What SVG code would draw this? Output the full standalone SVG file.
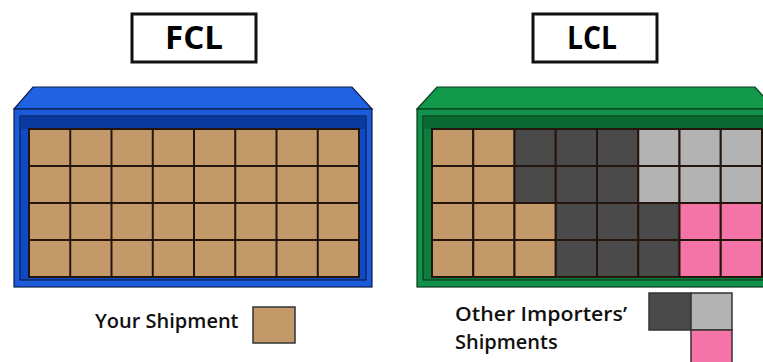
<svg xmlns="http://www.w3.org/2000/svg" width="763" height="362" viewBox="0 0 763 362">
<style>
.title{font-family:"Open Sans","Liberation Sans",sans-serif;font-weight:700;font-size:32px;fill:#000}
.tbox{fill:#fff;stroke:#111;stroke-width:3}
.lbl{font-family:"Open Sans","Liberation Sans",sans-serif;font-weight:600;font-size:20px;fill:#111}
.edge{stroke:#0d1f4a;stroke-width:1.2}
.gedge{stroke:#0a3a1c;stroke-width:1.2}
.box{stroke:#24160d;stroke-width:2}
.tan{fill:#c4996a}
.dk{fill:#4a4a4a}
.lt{fill:#b3b3b3}
.pk{fill:#f574a7}
.leg{stroke:#333;stroke-width:1.5}
</style>
<defs>
<pattern id="grid" x="29" y="129" width="41.25" height="37" patternUnits="userSpaceOnUse">
<rect width="41.25" height="37" fill="none" stroke="#24160d" stroke-width="2"/>
</pattern>
</defs>

<g id="fcl-title">
<rect class="tbox" x="132" y="14" width="124" height="48"/>
<text class="title" x="194" y="49" text-anchor="middle" textLength="58" lengthAdjust="spacingAndGlyphs">FCL</text>
</g>

<g id="lcl-title">
<rect class="tbox" x="533" y="14" width="124" height="48"/>
<text class="title" x="592" y="49" text-anchor="middle" textLength="50" lengthAdjust="spacingAndGlyphs">LCL</text>
</g>

<g id="fcl-container">
<polygon class="edge" points="33,87 352,87 372,109 14,109" fill="#1f62e2"/>
<rect class="edge" x="14" y="109" width="358" height="178" fill="#1a5bdc"/>
<rect class="edge" x="20" y="116" width="346" height="164" fill="#1049c4"/>
<rect x="20.6" y="116.6" width="344.8" height="12.4" fill="#0b3a9e"/>
<rect class="tan" x="29" y="129" width="330" height="148"/>
<rect x="29" y="129" width="330" height="148" fill="url(#grid)" stroke="#24160d" stroke-width="2"/>
</g>

<g id="lcl-container">
<polygon class="gedge" points="437,87 755,87 775,109 417,109" fill="#12994a"/>
<rect class="gedge" x="417" y="109" width="360" height="178" fill="#11924a"/>
<rect class="gedge" x="423" y="116" width="350" height="164" fill="#0c7d3b"/>
<rect x="423.6" y="116.6" width="348" height="12.4" fill="#0a6a31"/>
<g class="box">
<rect class="tan" x="432" y="129" width="41.25" height="37"/>
<rect class="tan" x="473.25" y="129" width="41.25" height="37"/>
<rect class="dk" x="514.5" y="129" width="41.25" height="37"/>
<rect class="dk" x="555.75" y="129" width="41.25" height="37"/>
<rect class="dk" x="597" y="129" width="41.25" height="37"/>
<rect class="lt" x="638.25" y="129" width="41.25" height="37"/>
<rect class="lt" x="679.5" y="129" width="41.25" height="37"/>
<rect class="lt" x="720.75" y="129" width="41.25" height="37"/>

<rect class="tan" x="432" y="166" width="41.25" height="37"/>
<rect class="tan" x="473.25" y="166" width="41.25" height="37"/>
<rect class="dk" x="514.5" y="166" width="41.25" height="37"/>
<rect class="dk" x="555.75" y="166" width="41.25" height="37"/>
<rect class="dk" x="597" y="166" width="41.25" height="37"/>
<rect class="lt" x="638.25" y="166" width="41.25" height="37"/>
<rect class="lt" x="679.5" y="166" width="41.25" height="37"/>
<rect class="lt" x="720.75" y="166" width="41.25" height="37"/>

<rect class="tan" x="432" y="203" width="41.25" height="37"/>
<rect class="tan" x="473.25" y="203" width="41.25" height="37"/>
<rect class="tan" x="514.5" y="203" width="41.25" height="37"/>
<rect class="dk" x="555.75" y="203" width="41.25" height="37"/>
<rect class="dk" x="597" y="203" width="41.25" height="37"/>
<rect class="dk" x="638.25" y="203" width="41.25" height="37"/>
<rect class="pk" x="679.5" y="203" width="41.25" height="37"/>
<rect class="pk" x="720.75" y="203" width="41.25" height="37"/>

<rect class="tan" x="432" y="240" width="41.25" height="37"/>
<rect class="tan" x="473.25" y="240" width="41.25" height="37"/>
<rect class="tan" x="514.5" y="240" width="41.25" height="37"/>
<rect class="dk" x="555.75" y="240" width="41.25" height="37"/>
<rect class="dk" x="597" y="240" width="41.25" height="37"/>
<rect class="dk" x="638.25" y="240" width="41.25" height="37"/>
<rect class="pk" x="679.5" y="240" width="41.25" height="37"/>
<rect class="pk" x="720.75" y="240" width="41.25" height="37"/>
</g>
</g>

<g id="legend-your">
<text class="lbl" x="95" y="328">Your Shipment</text>
<rect class="tan leg" x="253" y="307" width="42" height="36"/>
</g>

<g id="legend-other">
<text class="lbl" x="455" y="321" textLength="172" lengthAdjust="spacingAndGlyphs">Other Importers’</text>
<text class="lbl" x="455" y="349">Shipments</text>
<rect class="dk leg" x="649" y="293" width="42" height="37"/>
<rect class="lt leg" x="691" y="293" width="41" height="37"/>
<rect class="pk leg" x="691" y="330" width="41" height="36"/>
</g>
</svg>
